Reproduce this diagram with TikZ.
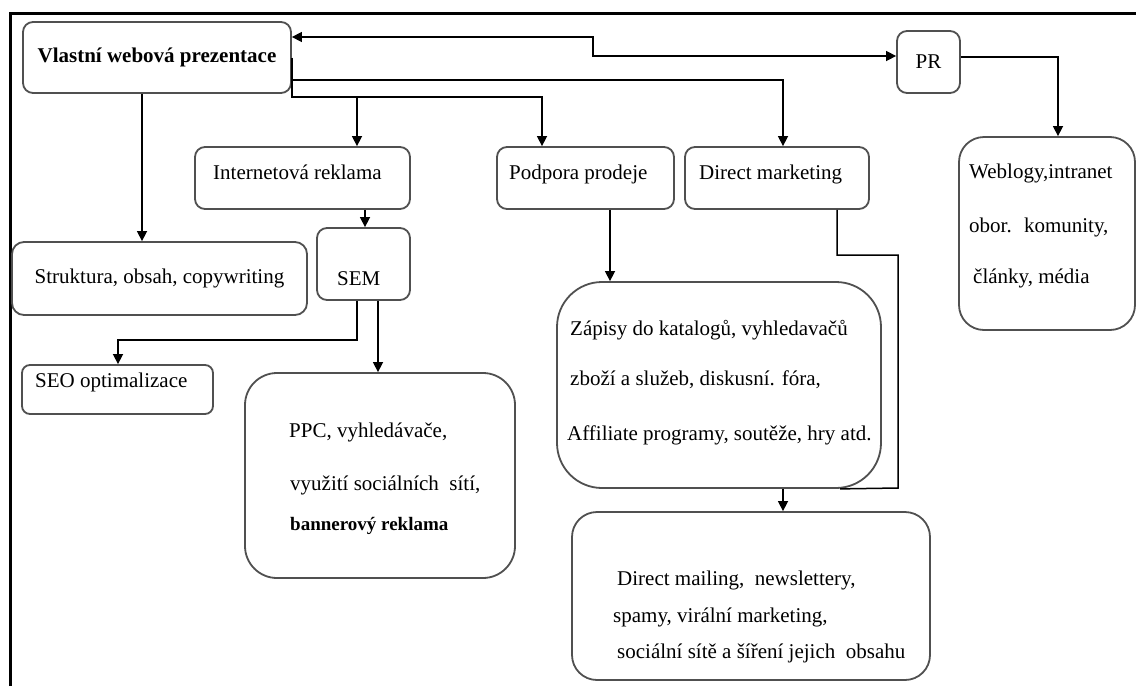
\documentclass[tikz,border=0pt]{standalone}
\usepackage{fontspec}
\setmainfont{Liberation Serif}
\usetikzlibrary{arrows.meta}
\definecolor{boxgray}{HTML}{505050}
\begin{document}
\begin{tikzpicture}[x=1pt,y=-1pt,
  >={Triangle[length=10pt,width=10pt]},
  box/.style={draw=boxgray, line width=1.8pt, inner sep=0pt, anchor=center, rounded corners=10pt, font=\fontsize{21}{25}\selectfont},
  conn/.style={draw=black, line width=1.5pt, ->},
  bothway/.style={draw=black, line width=1.5pt, <->},
  plainline/.style={draw=black, line width=1.5pt},
  txt/.style={anchor=base west, inner sep=0pt, font=\fontsize{21}{25}\selectfont},
  boldtxt/.style={anchor=base west, inner sep=0pt, font=\fontsize{19}{23}\selectfont\bfseries},
  frameline/.style={draw=black, line width=3pt}
]
\fill[white] (0,0) rectangle (1136,686);
\useasboundingbox (0,0) rectangle (1136,686);

% outer frame
\draw[frameline] (10,686) -- (10,13.5) -- (1136,13.5);

% boxes
\node[box, minimum width=268pt, minimum height=71pt] (main) at (157,57.5) {\bfseries Vlastní webová prezentace};
\node[box, minimum width=63pt, minimum height=62pt] (pr) at (928.5,62) {PR};
\node[box, rounded corners=25pt, minimum width=176pt, minimum height=193pt] (web) at (1047,233.5) {};
\node[box, minimum width=215pt, minimum height=62pt] (ir) at (302.5,178) {};
\node[box, minimum width=177pt, minimum height=62pt] (pp) at (585.5,178) {};
\node[box, minimum width=184pt, minimum height=62pt] (dm) at (777,178) {};
\node[box, rounded corners=12pt, minimum width=295pt, minimum height=73pt] (str) at (159.5,278.5) {Struktura, obsah, copywriting};
\node[box, minimum width=93pt, minimum height=72pt] (sem) at (363.5,264) {};
\node[box, rounded corners=8pt, minimum width=191pt, minimum height=49pt] (seo) at (117.5,389.5) {};
\node[box, rounded corners=32pt, minimum width=270pt, minimum height=205pt] (ppc) at (380,475.5) {};
\node[box, rounded corners=45pt, minimum width=324pt, minimum height=206pt] (zap) at (719,385) {};
\node[box, rounded corners=25pt, minimum width=358pt, minimum height=168pt] (dmail) at (751,596) {};

% texts
\node[txt] (irt) at (213,179) {Internetová reklama};
\node[txt] (ppt) at (509,179) {Podpora prodeje};
\node[txt] (dmt) at (699,179) {Direct marketing};
\node[txt] (semt) at (337,285) {SEM};
\node[txt] (seot) at (35,387) {SEO optimalizace};
\node[txt] (web1) at (969,178) {Weblogy,intranet};
\node[txt] (web2) at (969,232) {obor.~ komunity,};
\node[txt] (web3) at (973,283) {články, média};
\node[txt] (ppc1) at (289,437) {PPC, vyhledávače,};
\node[txt] (ppc2) at (290,490) {využití sociálních~ sítí,};
\node[boldtxt] (ppc3) at (290,530) {bannerový reklama};
\node[txt] (zap1) at (570,335) {Zápisy do katalogů, vyhledavačů};
\node[txt] (zap2) at (570,385) {zboží a služeb, diskusní. fóra,};
\node[txt] (zap3) at (567,440) {Affiliate programy, soutěže, hry atd.};
\node[txt] (dml1) at (617,585) {Direct mailing,~ newslettery,};
\node[txt] (dml2) at (613,622) {spamy, virální marketing,};
\node[txt] (dml3) at (617,658) {sociální sítě a šíření jejich~ obsahu};

% connectors
\draw[bothway] (main.east |- 0,37) -- (593,37) -- (593,56) -- (pr.west |- 0,56);
\draw[conn] (pr.east |- 0,57) -| (web.north -| 1058,0);
\draw[conn] (main.east |- 0,80) -| (dm.north -| 783,0);
\draw[conn] (main.east) -- (main.east |- 0,97) -| (ir.north -| 357,0);
\draw[conn] (main.east |- 0,97) -| (pp.north -| 542,0);
\draw[conn] (main.south -| 142,0) -- (str.north -| 142,0);
\draw[conn] (ir.south -| 365,0) -- (sem.north -| 365,0);
\draw[conn] (sem.south -| 357,0) -- (357,340) -| (seo.north -| 118,0);
\draw[conn] (sem.south -| 378,0) -- (ppc.north -| 378,0);
\draw[conn] (pp.south -| 610,0) -- (zap.north -| 610,0);
\draw[plainline] (dm.south -| 837,0) -- (837,255) -- (898,255) -- (898,488) -- (zap.south -| 840,0);
\draw[conn] (zap.south -| 783,0) -- (dmail.north -| 783,0);
\end{tikzpicture}
\end{document}
